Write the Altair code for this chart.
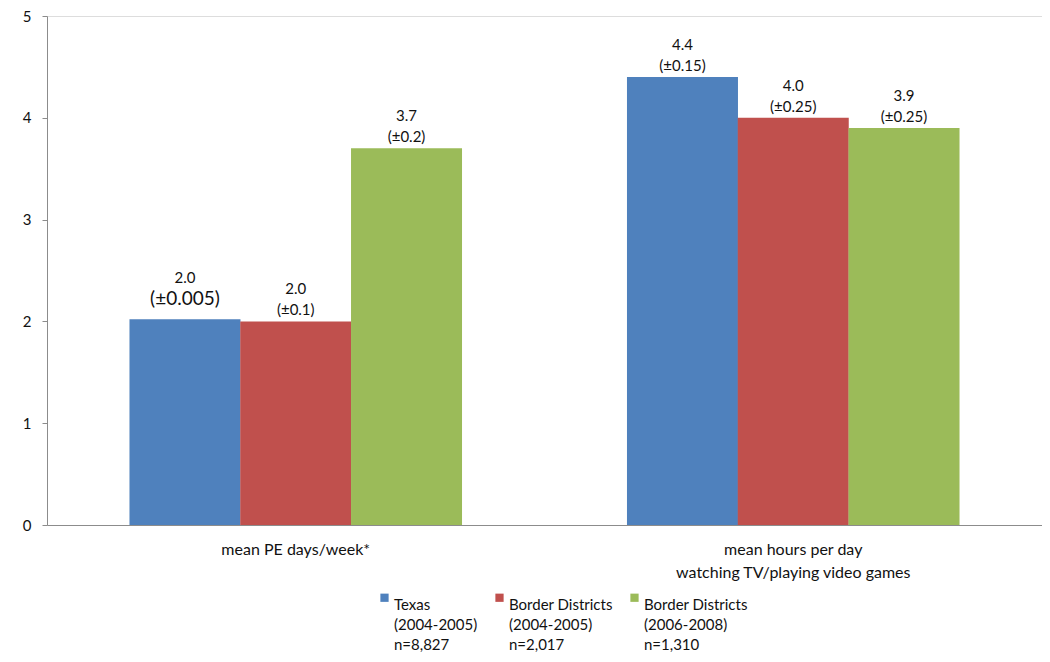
import altair as alt
import pandas as pd

categories = ["mean PE days/week*", "mean hours per day\nwatching TV/playing video games"]
series = ["Texas\n(2004-2005)\nn=8,827",
          "Border Districts\n(2004-2005)\nn=2,017",
          "Border Districts\n(2006-2008)\nn=1,310"]
colors = ["#4F81BD", "#C0504D", "#9BBB59"]
pe_values = [2.02, 2.0, 3.7]
tv_values = [4.4, 4.0, 3.9]
pe_labels = ["2.0", "2.0", "3.7"]
tv_labels = ["4.4", "4.0", "3.9"]
pe_err = ["(\u00b10.005)", "(\u00b10.1)", "(\u00b10.2)"]
tv_err = ["(\u00b10.15)", "(\u00b10.25)", "(\u00b10.25)"]
y_ticks = [0, 1, 2, 3, 4, 5]

rows = []
for cat, vals, labs, errs in [(categories[0], pe_values, pe_labels, pe_err),
                              (categories[1], tv_values, tv_labels, tv_err)]:
    for s, v, l, e in zip(series, vals, labs, errs):
        rows.append({"category": cat, "series": s, "value": v, "label": l, "err": e})
df = pd.DataFrame(rows)

FONT = "Lato"

x_enc = alt.X("category:N", sort=categories, title=None,
              scale=alt.Scale(paddingInner=0.332, paddingOuter=0.166),
              axis=alt.Axis(labelExpr="split(datum.label, '\\n')", labelAngle=0,
                            ticks=False, labelFontSize=16, labelFont=FONT,
                            labelColor="#111", labelPadding=16, labelLineHeight=23,
                            domainColor="#8c8c8c", labelBaseline="top", labelLimit=500))
xoff = alt.XOffset("series:N", sort=series, scale=alt.Scale(paddingInner=0, paddingOuter=0))
y_enc = alt.Y("value:Q", title=None,
              scale=alt.Scale(domain=[0, 5], nice=False),
              axis=alt.Axis(values=y_ticks, format="d", grid=False, labelFontSize=15,
                            labelFont=FONT, labelColor="#111", tickColor="#8c8c8c",
                            tickSize=5, domainColor="#8c8c8c", labelPadding=11))

color_enc = alt.Color("series:N", sort=series,
                      scale=alt.Scale(domain=series, range=colors),
                      legend=alt.Legend(title=None, orient="none", direction="horizontal",
                                        legendX=330, legendY=574,
                                        labelExpr="split(datum.label, '\\n')",
                                        labelFont=FONT, labelFontSize=15, labelColor="#111",
                                        labelBaseline="top", labelLimit=300,
                                        symbolType="square", symbolSize=68,
                                        symbolStrokeWidth=0, columnPadding=14,
                                        labelOffset=2))

base = alt.Chart(df)

bars = base.mark_bar(size=111).encode(x=x_enc, xOffset=xoff, y=y_enc, color=color_enc)

is_big = "datum.err == '(\u00b10.005)'"
not_big = "datum.err != '(\u00b10.005)'"

def txt(field, dy, size, flt):
    return base.transform_filter(flt).mark_text(
        font=FONT, fontSize=size, color="#111", baseline="middle", dy=dy
    ).encode(
        x=alt.X("category:N", sort=categories),
        xOffset=alt.XOffset("series:N", sort=series),
        y="value:Q",
        text=f"{field}:N",
    )

layers = [bars,
          txt("label", -32, 15, not_big),
          txt("err", -11, 15, not_big),
          txt("label", -41, 15, is_big),
          txt("err", -20, 19, is_big)]

chart = alt.layer(*layers).properties(
    width=995, height=509,
    autosize=alt.AutoSizeParams(type="none"),
    padding={"left": 39, "top": 8, "right": 0, "bottom": 129},
).configure_view(stroke="#6E98CF", strokeWidth=1.2).configure(
    background="white",
    style={"guide-label": {"lineHeight": 20}},
)

chart.save("out.html", embed_options={"renderer": "svg", "actions": False})
